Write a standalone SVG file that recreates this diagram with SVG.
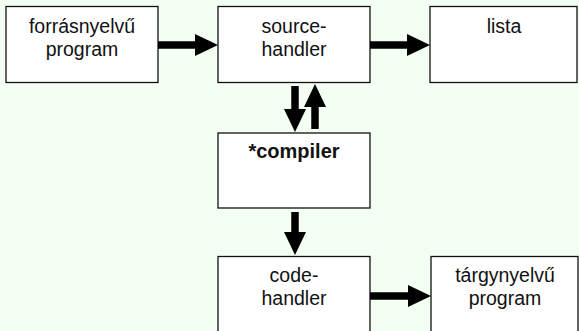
<svg xmlns="http://www.w3.org/2000/svg" width="579" height="331" viewBox="0 0 579 331">
  <style>
    .box { fill: #ffffff; stroke: #111111; stroke-width: 1.3; }
    .lbl { font-family: "Liberation Sans", Arial, sans-serif; font-size: 19.5px; fill: #111111; text-anchor: middle; }
    .bold { font-weight: bold; font-size: 20px; }
    .flow { stroke: #000000; stroke-width: 7.5; fill: none; marker-end: url(#head); }
  </style>
  <defs>
    <marker id="head" markerUnits="userSpaceOnUse" markerWidth="23" markerHeight="22" viewBox="0 0 23 22" refX="0" refY="11" orient="auto">
      <path d="M0,0 L23,11 L0,22 Z" fill="#000000"/>
    </marker>
  </defs>
  <rect width="579" height="331" fill="#f4fff4"/>

  <g id="source-program">
    <rect class="box" x="6" y="6.5" width="152" height="76"/>
    <text class="lbl" x="82" y="33">forrásnyelvű</text>
    <text class="lbl" x="82" y="55.5">program</text>
  </g>
  <g id="source-handler">
    <rect class="box" x="218" y="6.5" width="152" height="76"/>
    <text class="lbl" x="294" y="33">source-</text>
    <text class="lbl" x="294" y="55.5">handler</text>
  </g>
  <g id="lista">
    <rect class="box" x="430" y="6.5" width="147" height="76"/>
    <text class="lbl" x="504" y="33">lista</text>
  </g>
  <g id="compiler">
    <rect class="box" x="218" y="133" width="152" height="75"/>
    <text class="lbl bold" x="294" y="158">*compiler</text>
  </g>
  <g id="code-handler">
    <rect class="box" x="218" y="256.5" width="152" height="80"/>
    <text class="lbl" x="294" y="282">code-</text>
    <text class="lbl" x="294" y="305">handler</text>
  </g>
  <g id="target-program">
    <rect class="box" x="431" y="256.5" width="147" height="80"/>
    <text class="lbl" x="505" y="282">tárgynyelvű</text>
    <text class="lbl" x="505" y="305">program</text>
  </g>

  <g id="connectors">
    <line class="flow" x1="158" y1="45" x2="195" y2="45"/>
    <line class="flow" x1="370" y1="45" x2="407" y2="45"/>
    <line class="flow" x1="295" y1="86" x2="295" y2="109"/>
    <line class="flow" x1="315" y1="129" x2="315" y2="107"/>
    <line class="flow" x1="295" y1="212" x2="295" y2="232"/>
    <line class="flow" x1="370" y1="296" x2="408" y2="296"/>
  </g>
</svg>
